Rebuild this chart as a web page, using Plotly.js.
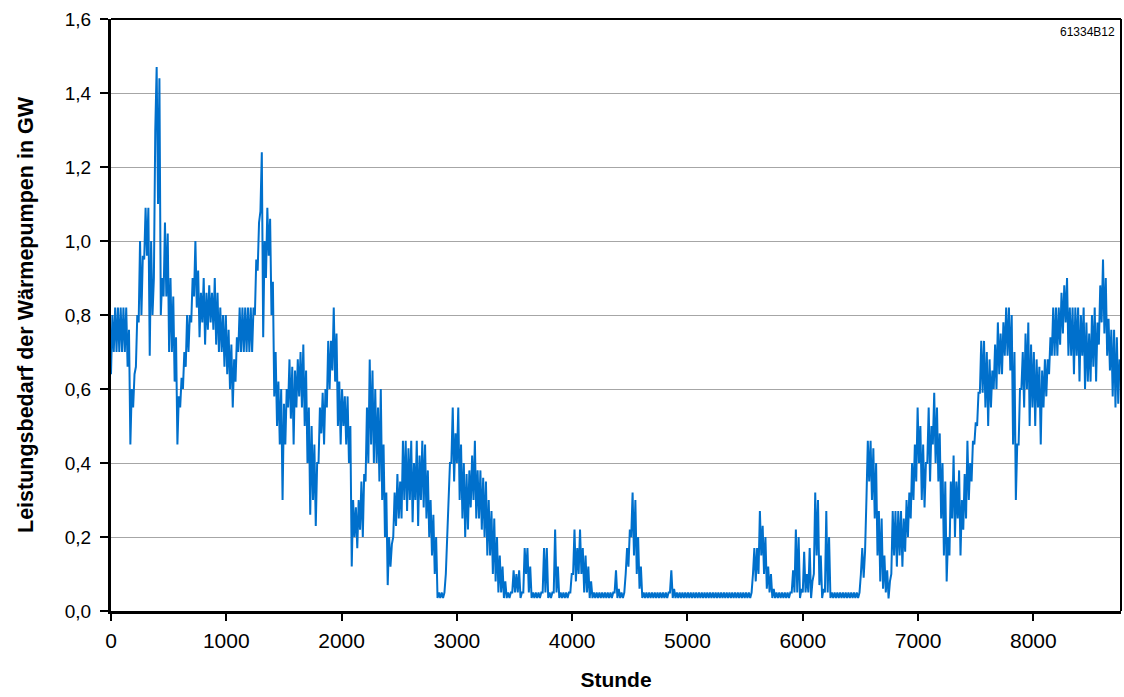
<!DOCTYPE html>
<html>
<head>
<meta charset="utf-8">
<script src="https://cdn.plot.ly/plotly-3.0.1.min.js"></script>
<style>html,body{margin:0;padding:0;background:#fff;}#chart{width:1124px;height:697px;}</style>
</head>
<body>
<div id="chart"></div>
<script>
// Daily minimum / maximum heat-pump demand (GW), one value per day (365 days)
var dayLow = [
0.64,0.70,0.70,0.70,0.70,0.70,0.66,
0.45,0.55,0.66,0.78,0.80,0.95,0.96,
0.69,0.80,1.30,1.10,0.80,0.85,0.85,
0.70,0.70,0.62,0.45,0.55,0.60,0.66,
0.70,0.78,0.85,0.82,0.74,0.78,0.72,
0.76,0.78,0.76,0.72,0.70,0.70,0.66,
0.64,0.60,0.55,0.62,0.70,0.70,0.70,
0.70,0.70,0.70,0.80,0.92,1.08,0.74,
0.90,0.96,0.80,0.58,0.50,0.45,0.30,
0.45,0.55,0.52,0.45,0.55,0.58,0.55,
0.50,0.40,0.26,0.30,0.23,0.40,0.48,
0.45,0.55,0.60,0.65,0.62,0.50,0.45,
0.50,0.45,0.40,0.12,0.20,0.17,0.22,
0.20,0.35,0.40,0.45,0.40,0.40,0.35,
0.30,0.20,0.07,0.12,0.20,0.23,0.25,
0.25,0.30,0.27,0.30,0.24,0.30,0.23,
0.30,0.28,0.25,0.20,0.15,0.10,0.035,
0.035,0.035,0.10,0.25,0.40,0.35,0.40,
0.30,0.25,0.20,0.22,0.28,0.30,0.25,
0.25,0.22,0.20,0.15,0.15,0.10,0.08,
0.05,0.05,0.035,0.035,0.035,0.05,0.05,
0.05,0.035,0.05,0.10,0.05,0.035,0.035,
0.035,0.035,0.05,0.05,0.035,0.035,0.05,
0.05,0.035,0.035,0.035,0.035,0.05,0.10,
0.08,0.10,0.10,0.05,0.05,0.035,0.035,
0.035,0.035,0.035,0.035,0.035,0.035,0.035,
0.05,0.035,0.035,0.035,0.10,0.12,0.20,
0.15,0.10,0.06,0.035,0.035,0.035,0.035,
0.035,0.035,0.035,0.035,0.035,0.035,0.05,
0.035,0.035,0.035,0.035,0.035,0.035,0.035,
0.035,0.035,0.035,0.035,0.035,0.035,0.035,
0.035,0.035,0.035,0.035,0.035,0.035,0.035,
0.035,0.035,0.035,0.035,0.035,0.035,0.035,
0.035,0.10,0.08,0.10,0.15,0.10,0.06,
0.05,0.035,0.035,0.035,0.035,0.035,0.035,
0.035,0.05,0.05,0.05,0.035,0.05,0.05,
0.05,0.035,0.10,0.15,0.07,0.035,0.05,
0.05,0.035,0.035,0.035,0.035,0.035,0.035,
0.035,0.035,0.035,0.035,0.035,0.10,0.09,
0.30,0.35,0.30,0.25,0.15,0.08,0.06,
0.05,0.034,0.10,0.15,0.12,0.15,0.12,
0.16,0.20,0.25,0.30,0.35,0.40,0.30,
0.28,0.40,0.35,0.45,0.40,0.35,0.25,
0.15,0.08,0.15,0.25,0.20,0.25,0.15,
0.22,0.25,0.30,0.35,0.45,0.50,0.59,
0.59,0.55,0.50,0.55,0.60,0.60,0.64,
0.64,0.69,0.69,0.65,0.45,0.30,0.45,
0.60,0.55,0.60,0.50,0.55,0.50,0.55,
0.45,0.55,0.58,0.64,0.69,0.69,0.69,
0.72,0.75,0.78,0.69,0.69,0.64,0.69,
0.62,0.69,0.60,0.62,0.62,0.66,0.62,
0.72,0.78,0.75,0.69,0.65,0.58,0.55,
0.56
];
var dayHigh = [
0.80,0.82,0.82,0.82,0.82,0.82,0.76,
0.60,0.64,0.80,1.00,0.96,1.09,1.09,
1.00,0.90,1.47,1.44,0.90,1.05,1.02,
0.90,0.85,0.74,0.58,0.63,0.70,0.80,
0.80,0.90,1.00,0.92,0.86,0.90,0.86,
0.88,0.86,0.90,0.86,0.82,0.80,0.80,
0.76,0.72,0.68,0.74,0.82,0.82,0.82,
0.82,0.82,0.82,0.95,1.05,1.24,1.00,
1.09,1.06,0.89,0.70,0.62,0.60,0.56,
0.60,0.68,0.66,0.65,0.68,0.70,0.72,
0.65,0.55,0.50,0.45,0.40,0.55,0.59,
0.60,0.73,0.73,0.82,0.75,0.62,0.60,
0.58,0.58,0.50,0.30,0.28,0.30,0.35,
0.37,0.55,0.68,0.65,0.60,0.55,0.60,
0.45,0.32,0.20,0.18,0.32,0.37,0.35,
0.46,0.46,0.44,0.46,0.40,0.46,0.42,
0.46,0.45,0.38,0.30,0.26,0.20,0.05,
0.05,0.05,0.20,0.40,0.55,0.48,0.55,
0.45,0.40,0.37,0.38,0.42,0.46,0.38,
0.38,0.36,0.35,0.30,0.27,0.25,0.20,
0.15,0.12,0.08,0.05,0.05,0.11,0.10,
0.11,0.05,0.17,0.17,0.12,0.05,0.05,
0.05,0.05,0.17,0.17,0.05,0.05,0.22,
0.12,0.05,0.05,0.05,0.05,0.10,0.22,
0.17,0.22,0.17,0.15,0.12,0.08,0.05,
0.05,0.05,0.05,0.05,0.05,0.05,0.05,
0.11,0.06,0.05,0.05,0.17,0.22,0.32,
0.30,0.20,0.12,0.05,0.05,0.05,0.05,
0.05,0.05,0.05,0.05,0.05,0.05,0.11,
0.06,0.05,0.05,0.05,0.05,0.05,0.05,
0.05,0.05,0.05,0.05,0.05,0.05,0.05,
0.05,0.05,0.05,0.05,0.05,0.05,0.05,
0.05,0.05,0.05,0.05,0.05,0.05,0.05,
0.05,0.17,0.17,0.27,0.23,0.20,0.12,
0.10,0.06,0.05,0.05,0.05,0.05,0.05,
0.05,0.11,0.22,0.20,0.06,0.16,0.10,
0.17,0.08,0.32,0.30,0.15,0.06,0.27,
0.20,0.05,0.05,0.05,0.05,0.05,0.05,
0.05,0.05,0.05,0.05,0.05,0.17,0.16,
0.46,0.46,0.44,0.40,0.27,0.25,0.15,
0.11,0.08,0.27,0.27,0.27,0.27,0.25,
0.30,0.32,0.40,0.45,0.55,0.50,0.45,
0.40,0.55,0.50,0.59,0.55,0.48,0.40,
0.35,0.20,0.35,0.42,0.35,0.38,0.30,
0.37,0.46,0.40,0.46,0.51,0.59,0.73,
0.73,0.70,0.68,0.65,0.72,0.78,0.75,
0.78,0.82,0.82,0.80,0.70,0.45,0.60,
0.70,0.75,0.78,0.72,0.70,0.68,0.66,
0.65,0.68,0.68,0.74,0.82,0.82,0.82,
0.86,0.88,0.90,0.82,0.82,0.82,0.82,
0.80,0.82,0.78,0.75,0.80,0.82,0.78,
0.88,0.95,0.90,0.79,0.76,0.76,0.74,
0.68
];
var xTicks = [0,1000,2000,3000,4000,5000,6000,7000,8000];
var yTicks = [0,0.2,0.4,0.6,0.8,1.0,1.2,1.4,1.6];
var xTitle = "Stunde";
var yTitle = "Leistungsbedarf der Wärmepumpen in GW";
var figCode = "61334B12";

// build hourly positions: daily low and high
var xs = [], ys = [];
for (var d = 0; d < dayLow.length; d++) {
  xs.push(d * 24); ys.push(dayLow[d]);
  xs.push(d * 24 + 12); ys.push(dayHigh[d]);
}

var sans = 'Liberation Sans, Arial, Helvetica, sans-serif';

var trace = {
  x: xs, y: ys, type: 'scatter', mode: 'lines',
  line: {color: 'rgb(0,112,204)', width: 2},
  hoverinfo: 'skip'
};

var layout = {
  width: 1124, height: 697,
  margin: {l: 111, r: 3, t: 19, b: 86},
  paper_bgcolor: '#ffffff', plot_bgcolor: '#ffffff',
  separators: ',.',
  showlegend: false,
  xaxis: {
    range: [0, 8760], tickvals: xTicks, ticktext: xTicks.map(String),
    showgrid: false, zeroline: false,
    showline: true, linecolor: '#000', linewidth: 3, mirror: false,
    ticks: 'outside', ticklen: 7, tickwidth: 2, tickcolor: '#000',
    ticklabelstandoff: 2,
    tickfont: {family: sans, size: 21, color: '#000'},
    title: {text: xTitle, font: {family: sans, size: 21, color: '#000', weight: 'bold'}, standoff: 22},
    automargin: false
  },
  yaxis: {
    range: [0, 1.6], tickvals: yTicks, tickformat: '.1f',
    showgrid: true, gridcolor: '#a6a6a6', gridwidth: 1, zeroline: false,
    showline: true, linecolor: '#000', linewidth: 3, mirror: false,
    ticks: 'outside', ticklen: 8, tickwidth: 2, tickcolor: '#000',
    ticklabelstandoff: 5,
    tickfont: {family: sans, size: 19, color: '#000'},
    title: {text: yTitle, font: {family: sans, size: 21.5, color: '#000', weight: 'bold'}, standoff: 26},
    automargin: false
  },
  shapes: [
    {type: 'line', xref: 'paper', yref: 'paper', x0: 0, x1: 1, y0: 1, y1: 1, line: {color: '#000', width: 2}},
    {type: 'line', xref: 'paper', yref: 'paper', x0: 1, x1: 1, y0: 0, y1: 1, line: {color: '#000', width: 2}}
  ],
  annotations: [{
    text: figCode, xref: 'paper', yref: 'paper', x: 0.996, y: 0.993,
    xanchor: 'right', yanchor: 'top', showarrow: false,
    font: {family: sans, size: 12, color: '#000'}
  }]
};

Plotly.newPlot('chart', [trace], layout, {staticPlot: true, displayModeBar: false});
</script>
</body>
</html>
